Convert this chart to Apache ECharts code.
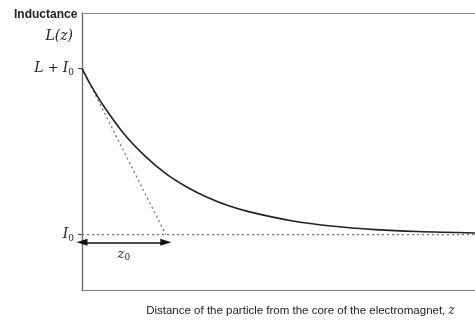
<!DOCTYPE html>
<html>
<head>
<meta charset="utf-8">
<script src="https://cdn.jsdelivr.net/npm/echarts@6/dist/echarts.min.js"></script>
<style>html,body{margin:0;padding:0;background:#fff}#c{width:475px;height:322px}</style>
</head>
<body>
<div id="c"></div>
<script>
// Distance z in units of z0, inductance in units of I0
const zValues    = [0, 0.1, 0.25, 0.5, 0.75, 1, 1.25, 1.5, 1.75, 2, 2.5, 3, 3.5, 4, 4.69];
const inductance = [4.0, 3.71, 3.34, 2.82, 2.42, 2.10, 1.86, 1.67, 1.52, 1.41, 1.25, 1.15, 1.09, 1.055, 1.03];
const tangentZ = [0, 1];
const tangentL = [4, 1];
const baseZ = [0, 4.69];
const baseL = [1, 1];
const arrowZ = [0, 1];
const arrowLevel = 0.86;
const yTickValues = [1, 4];

const serif = '"DejaVu Serif","Liberation Serif",serif';
const sans = '"Liberation Sans",Arial,sans-serif';

const chart = echarts.init(document.getElementById('c'), null, {renderer: 'canvas'});
const dotted = {color: '#777', width: 1.3, type: [2, 3]};
const hidden = {axisTick: {show: false}, axisLabel: {show: false}, splitLine: {show: false}};
chart.setOption({
  animation: false,
  grid: {left: 82, top: 13, right: -10, bottom: 29},
  xAxis: [{
    type: 'value', min: 0, max: 4.69, position: 'bottom',
    axisLine: {show: true, onZero: false, lineStyle: {color: '#777', width: 1}},
    ...hidden,
    name: '{a|Distance of the particle from the core of the electromagnet, }{z|z}',
    nameLocation: 'middle', nameGap: 15,
    nameTextStyle: {
      padding: [0, 0, 0, 44],
      rich: {
        a: {fontFamily: sans, fontSize: 11.5, color: '#222'},
        z: {fontFamily: serif, fontStyle: 'italic', fontSize: 12, color: '#222'}
      }
    }
  }, {
    type: 'value', min: 0, max: 4.69, position: 'top',
    axisLine: {show: true, onZero: false, lineStyle: {color: '#888', width: 1}},
    ...hidden
  }],
  yAxis: {
    type: 'value', min: 0, max: 5.0,
    axisLine: {show: true, onZero: false, lineStyle: {color: '#666', width: 1.3}},
    axisTick: {show: true, length: 4, customValues: yTickValues, lineStyle: {color: '#444'}},
    splitLine: {show: false},
    axisLabel: {
      show: true, customValues: yTickValues, margin: 8,
      formatter: function (v) {
        if (v === 4) return '{it|L}{n| + }{it|I}{sub|0}';
        if (v === 1) return '{it|I}{sub|0}';
        return '';
      },
      rich: {
        it: {fontFamily: serif, fontStyle: 'italic', fontSize: 14, color: '#222'},
        n: {fontFamily: serif, fontSize: 13, color: '#222'},
        sub: {fontFamily: serif, fontSize: 9, color: '#222', padding: [8, 0, 0, 0]}
      }
    }
  },
  graphic: [
    {type: 'text', left: 14, top: 9, style: {text: 'Inductance', font: 'bold 12px ' + sans, fill: '#222'}},
    {type: 'text', right: 402, top: 29, style: {text: 'L(z)', font: 'italic 14px ' + serif, fill: '#222', textAlign: 'right'}}
  ],
  series: [
    {
      type: 'line', data: baseZ.map((z, i) => [z, baseL[i]]), symbol: 'none',
      lineStyle: dotted, silent: true
    },
    {
      type: 'line', data: tangentZ.map((z, i) => [z, tangentL[i]]), symbol: 'none',
      lineStyle: dotted, silent: true
    },
    {
      type: 'line', data: zValues.map((z, i) => [z, inductance[i]]), symbol: 'none',
      smooth: 0.35,
      lineStyle: {color: '#222', width: 1.6}, silent: true,
      markLine: {
        silent: true, symbol: ['triangle', 'triangle'], symbolSize: [7, 11],
        lineStyle: {color: '#111', width: 1.5, type: 'solid'},
        label: {
          show: true, position: 'insideMiddleBottom', distance: 4,
          formatter: '{it|z}{sub|0}',
          rich: {
            it: {fontFamily: serif, fontStyle: 'italic', fontSize: 13, color: '#222'},
            sub: {fontFamily: serif, fontSize: 9, color: '#222', padding: [7, 0, 0, 0]}
          }
        },
        data: [[{coord: [arrowZ[0], arrowLevel]}, {coord: [arrowZ[1], arrowLevel]}]]
      }
    }
  ]
});
</script>
</body>
</html>
